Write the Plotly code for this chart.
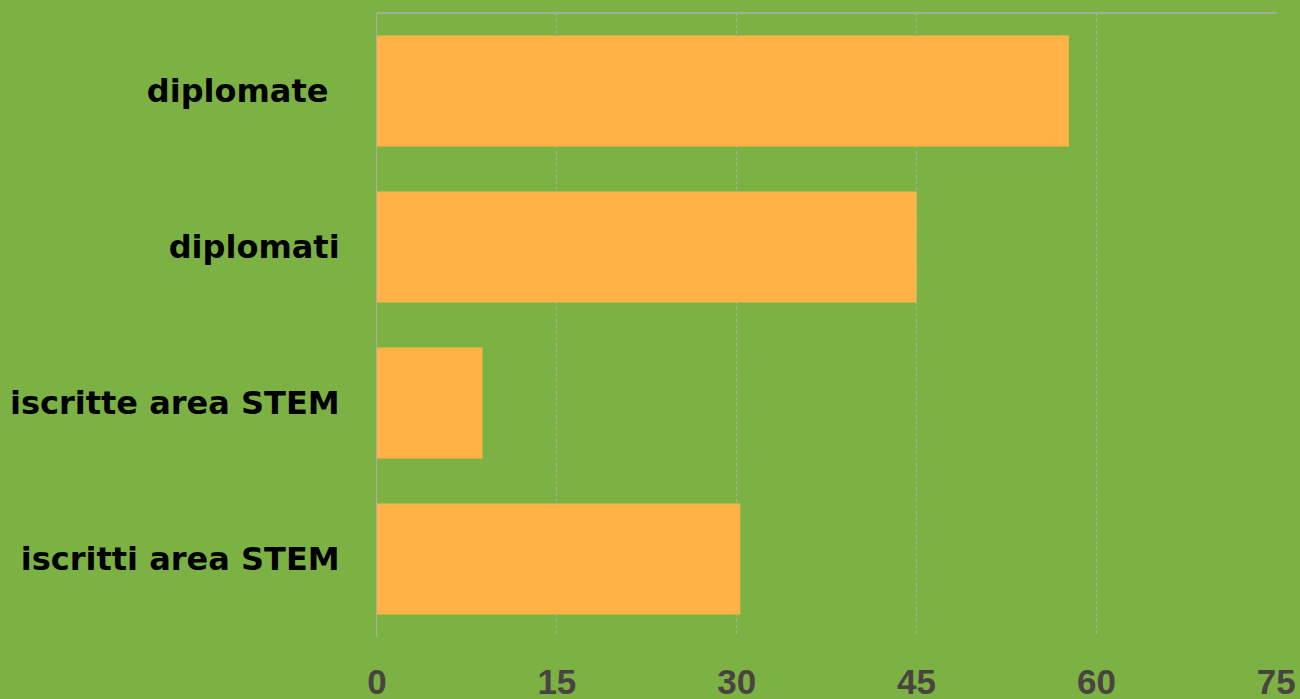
import plotly.graph_objects as go

categories = ["iscritti area STEM", "iscritte area STEM", "diplomati", "diplomate\u00a0"]
values = [30.3, 8.8, 45.0, 57.7]
tick_vals = [0, 15, 30, 45, 60, 75]

BG = "#7cb244"
BAR = "#ffb347"
GRID = "#adadad"

fig = go.Figure(go.Bar(
    y=categories, x=values, orientation="h",
    marker=dict(color=BAR, line=dict(width=0)),
    width=0.71,
    hoverinfo="skip",
))

fig.update_layout(
    width=1300, height=699,
    paper_bgcolor=BG, plot_bgcolor=BG,
    margin=dict(l=377, r=23, t=13, b=62),
    showlegend=False,
    font=dict(family="Liberation Sans, Arial, sans-serif"),
    xaxis=dict(
        range=[0, 75.06], tickvals=tick_vals, ticktext=[str(v) for v in tick_vals],
        showgrid=True, gridcolor=GRID, griddash="3px,3px", gridwidth=1,
        zeroline=False, showline=False, automargin=False,
        tickfont=dict(size=35, color="#4a4341", family="Liberation Sans, Arial, sans-serif", weight="bold"),
        ticklabelstandoff=21,
    ),
    yaxis=dict(
        categoryorder="array", categoryarray=categories,
        showgrid=False, zeroline=False, automargin=False,
        showline=True, linecolor=GRID, linewidth=1,
        tickfont=dict(size=32, color="#000000", family="DejaVu Sans, sans-serif", weight="bold"),
        ticklabelstandoff=30,
    ),
    shapes=[dict(type="line", xref="paper", yref="paper", x0=0, x1=1, y0=1, y1=1,
                 line=dict(color=GRID, width=1.5))],
)

fig.write_html("out.html", config={"displayModeBar": False},
               post_script="document.body.style.margin='0';document.body.style.padding='0';")
